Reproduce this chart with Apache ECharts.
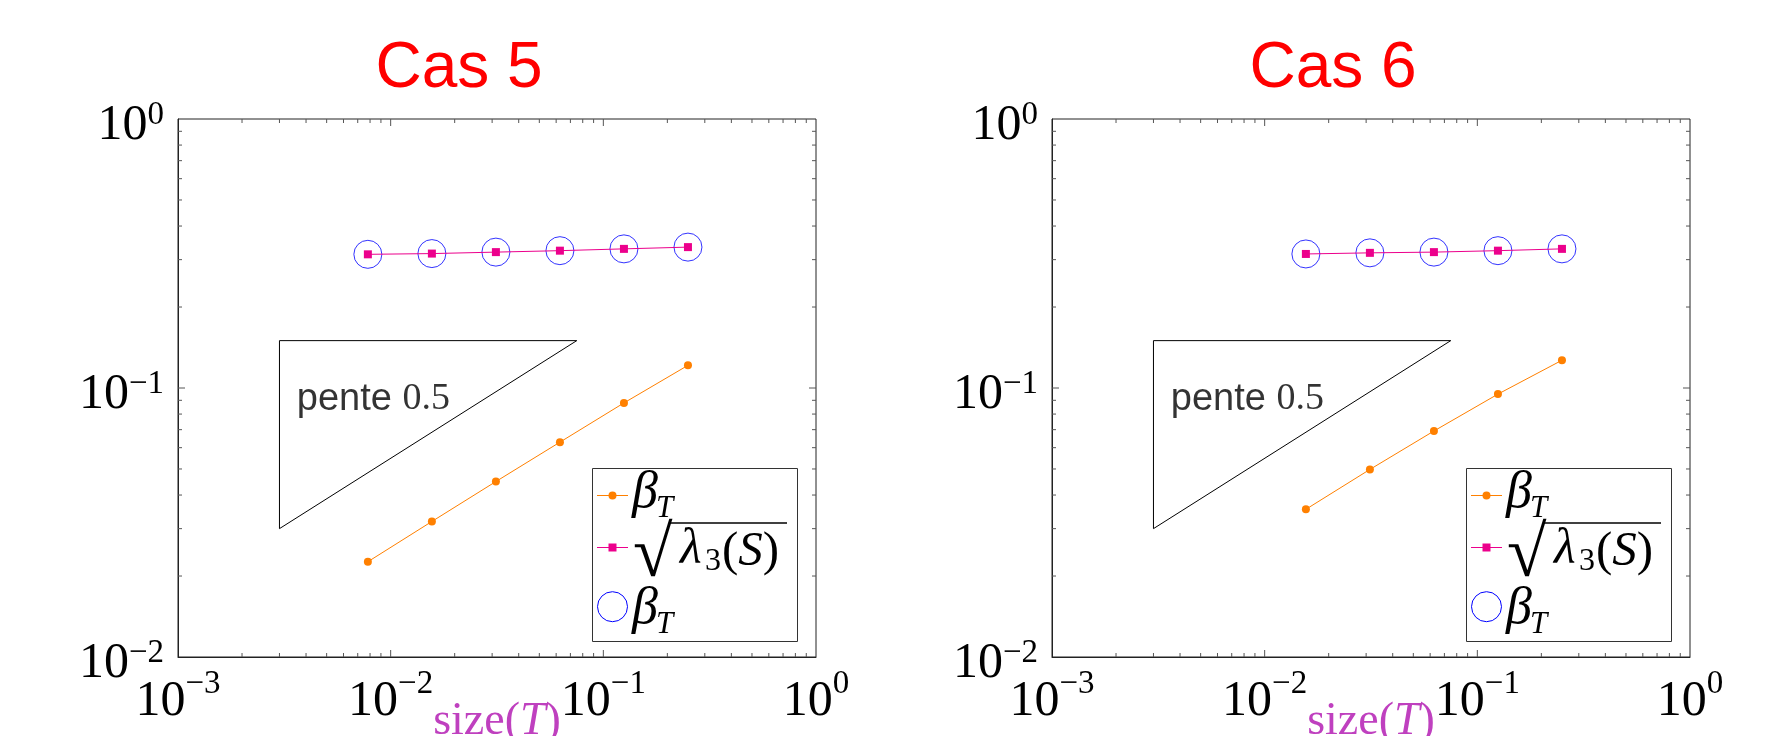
<!DOCTYPE html>
<html>
<head>
<meta charset="utf-8">
<title>Cas 5 / Cas 6</title>
<script src="https://cdn.jsdelivr.net/npm/echarts@6/dist/echarts.min.js"></script>
<style>
    html, body { margin: 0; padding: 0; background: #fff; }
    #chart { width: 1773px; height: 736px; }
</style>
</head>
<body>
<div id="chart"></div>
<script>
// 数据
const titles = ['Cas 5', 'Cas 6'];

const size5 = [1 / 128, 1 / 64, 1 / 32, 1 / 16, 1 / 8, 1 / 4];
const beta5 = [0.0226, 0.0319, 0.0449, 0.0629, 0.0880, 0.1214];
const lambda5 = [0.314, 0.316, 0.320, 0.324, 0.329, 0.334];
const circle5 = [0.314, 0.316, 0.320, 0.324, 0.329, 0.334];

const size6 = [1 / 64, 1 / 32, 1 / 16, 1 / 8, 1 / 4];
const beta6 = [0.0354, 0.0498, 0.0692, 0.0949, 0.1268];
const lambda6 = [0.315, 0.318, 0.320, 0.324, 0.329];
const circle6 = [0.315, 0.318, 0.320, 0.324, 0.329];

// 斜率三角形
const triangleX = [0.003, 0.075, 0.003, 0.003];
const triangleY = [0.03, 0.15, 0.15, 0.03];
const slopeLabelAt = [0.0036, 0.091];

// 刻度
const xMajor = [0.001, 0.01, 0.1, 1];
const yMajor = [0.01, 0.1, 1];

const SERIF = 'Liberation Serif';
const SANS = 'Liberation Sans';
const ORANGE = '#FF8000';
const MAGENTA = '#EC008C';
const BLUE = '#0000FF';
const xMin = xMajor[0], xMax = xMajor[xMajor.length - 1];
const yMin = yMajor[0], yMax = yMajor[yMajor.length - 1];

// 对数刻度: 内部主刻度 + 2..9 次刻度
function logTicks(major) {
    const out = [];
    for (let i = 0; i < major.length - 1; i++) {
        if (i > 0) out.push([major[i], 1]);
        for (let k = 2; k <= 9; k++) out.push([major[i] * k, 0]);
    }
    return out;
}

function powLabel(v) {
    const e = Math.round(Math.log10(v));
    return '{b|10}{s|' + (e < 0 ? '\u2212' + (-e) : e) + '}';
}
const powRichX = {
    b: { fontFamily: SERIF, fontSize: 50, lineHeight: 68, color: '#000' },
    s: { fontFamily: SERIF, fontSize: 33, lineHeight: 33, verticalAlign: 'top', color: '#000' }
};
const powRichY = {
    b: { fontFamily: SERIF, fontSize: 50, lineHeight: 68, padding: [14, 0, 0, 0], color: '#000' },
    s: { fontFamily: SERIF, fontSize: 33, lineHeight: 33, padding: [14, 0, 0, 0], verticalAlign: 'top', color: '#000' }
};

function tickSeries(idx, dir) {
    const ticks = logTicks(dir === 'x' ? xMajor : yMajor);
    return {
        type: 'custom',
        xAxisIndex: idx,
        yAxisIndex: idx,
        silent: true,
        z: 1,
        data: ticks.map(t => dir === 'x' ? [t[0], yMin, t[1]] : [xMin, t[0], t[1]]),
        renderItem(params, api) {
            const len = api.value(2) ? 7 : 4;
            const st = { stroke: '#555', lineWidth: 1 };
            if (dir === 'x') {
                const v = api.value(0);
                const b = api.coord([v, yMin]);
                const t = api.coord([v, yMax]);
                return {
                    type: 'group',
                    children: [
                        { type: 'line', shape: { x1: b[0], y1: b[1], x2: b[0], y2: b[1] - len }, style: st },
                        { type: 'line', shape: { x1: t[0], y1: t[1], x2: t[0], y2: t[1] + len }, style: st }
                    ]
                };
            }
            const v = api.value(1);
            const l = api.coord([xMin, v]);
            const r = api.coord([xMax, v]);
            return {
                type: 'group',
                children: [
                    { type: 'line', shape: { x1: l[0], y1: l[1], x2: l[0] + len, y2: l[1] }, style: st },
                    { type: 'line', shape: { x1: r[0], y1: r[1], x2: r[0] - len, y2: r[1] }, style: st }
                ]
            };
        }
    };
}

const gridLeft = [178, 1052];
const legendLeft = [592, 1466];
const titleLeft = [454, 1328];

// 图例 (LaTeX 风格, 手工排版)
function legendGraphic(L) {
    const T = 468;
    const txt = (x, y, text, size, italic) => ({
        type: 'text',
        x: L + x,
        y: T + y,
        style: {
            text: text,
            fontFamily: SERIF,
            fontSize: size,
            fontStyle: italic ? 'italic' : 'normal',
            fill: '#000',
            align: 'left',
            verticalAlign: 'middle'
        }
    });
    return {
        type: 'group',
        z: 100,
        children: [
            { type: 'rect', shape: { x: L + 0.5, y: T + 0.5, width: 205, height: 173 }, style: { fill: '#fff', stroke: '#333', lineWidth: 1 } },
            // β_T
            { type: 'line', shape: { x1: L + 5, y1: T + 27.5, x2: L + 36, y2: T + 27.5 }, style: { stroke: ORANGE, lineWidth: 1 } },
            { type: 'circle', shape: { cx: L + 20.5, cy: T + 27.5, r: 4 }, style: { fill: ORANGE } },
            txt(40, 25, '\u03B2', 52, true),
            txt(64, 41, 'T', 31, true),
            // sqrt(lambda_3(S))
            { type: 'line', shape: { x1: L + 5, y1: T + 79.5, x2: L + 36, y2: T + 79.5 }, style: { stroke: MAGENTA, lineWidth: 1 } },
            { type: 'rect', shape: { x: L + 16.5, y: T + 75.5, width: 8, height: 8 }, style: { fill: MAGENTA } },
            txt(41, 89, '\u221A', 72, false),
            { type: 'line', shape: { x1: L + 78, y1: T + 55, x2: L + 195, y2: T + 55 }, style: { stroke: '#000', lineWidth: 1.5 } },
            txt(88, 82, '\u03BB', 50, true),
            txt(113, 94, '3', 32, false),
            {
                type: 'text',
                x: L + 130,
                y: T + 84,
                style: {
                    text: '{l|(}{m|S}{l|)}',
                    align: 'left',
                    verticalAlign: 'middle',
                    rich: {
                        l: { fontFamily: SERIF, fontSize: 49, fill: '#000' },
                        m: { fontFamily: SERIF, fontStyle: 'italic', fontSize: 49, fill: '#000' }
                    }
                }
            },
            // 圆圈 β_T
            { type: 'circle', shape: { cx: L + 20.5, cy: T + 138.7, r: 15 }, style: { fill: 'none', stroke: BLUE, lineWidth: 1 } },
            txt(40, 141.5, '\u03B2', 52, true),
            txt(64, 157, 'T', 31, true)
        ]
    };
}

function pairs(xs, ys) {
    return xs.map((x, i) => [x, ys[i]]);
}

function buildSeries(i, k, xs, beta, lambda, circle) {
    return [
        tickSeries(i, 'x'),
        tickSeries(i, 'y'),
        {
            name: 'triangle' + k,
            type: 'line',
            xAxisIndex: i, yAxisIndex: i,
            data: pairs(triangleX, triangleY),
            symbol: 'none',
            silent: true,
            lineStyle: { color: '#000', width: 1 },
            z: 2
        },
        {
            name: 'slope' + k,
            type: 'scatter',
            xAxisIndex: i, yAxisIndex: i,
            data: [slopeLabelAt],
            symbolSize: 1,
            silent: true,
            itemStyle: { color: 'rgba(0,0,0,0)' },
            label: {
                show: true,
                position: 'right',
                distance: 0,
                formatter: '{p|pente }{n|0.5}',
                rich: {
                    p: { fontFamily: SANS, fontSize: 38, color: '#000' },
                    n: { fontFamily: SERIF, fontSize: 38, color: '#000' }
                }
            }
        },
        {
            name: 'circle' + k,
            type: 'scatter',
            xAxisIndex: i, yAxisIndex: i,
            data: pairs(xs, circle),
            symbol: 'circle',
            symbolSize: 28,
            itemStyle: { color: 'rgba(0,0,0,0)', borderColor: BLUE, borderWidth: 1 },
            z: 3
        },
        {
            name: 'beta' + k,
            type: 'line',
            xAxisIndex: i, yAxisIndex: i,
            data: pairs(xs, beta),
            symbol: 'circle',
            symbolSize: 8,
            color: ORANGE,
            itemStyle: { color: ORANGE, borderWidth: 0 },
            lineStyle: { color: ORANGE, width: 1 },
            z: 4
        },
        {
            name: 'lambda' + k,
            type: 'line',
            xAxisIndex: i, yAxisIndex: i,
            data: pairs(xs, lambda),
            symbol: 'rect',
            symbolSize: 8,
            color: MAGENTA,
            itemStyle: { color: MAGENTA, borderWidth: 0 },
            lineStyle: { color: MAGENTA, width: 1 },
            z: 5
        }
    ];
}

function initChart() {
    const chart = echarts.init(document.getElementById('chart'), null, { renderer: 'canvas' });

    const option = {
        backgroundColor: '#fff',
        animation: false,
        title: titles.map((t, i) => ({
            text: t,
            left: titleLeft[i],
            top: 32,
            textAlign: 'center',
            textStyle: { color: '#FF0000', fontFamily: SANS, fontSize: 64, fontWeight: 'normal' }
        })),
        grid: gridLeft.map(l => ({
            left: l,
            top: 119,
            width: 638,
            height: 538,
            show: true,
            borderColor: '#222',
            borderWidth: 1,
            backgroundColor: 'transparent',
            outerBoundsMode: 'none',
            containLabel: false
        })),
        xAxis: gridLeft.map((l, i) => ({
            type: 'log',
            logBase: 10,
            gridIndex: i,
            min: xMin,
            max: xMax,
            axisLine: { show: true, onZero: false, lineStyle: { color: '#222', width: 1 } },
            axisTick: { show: false },
            minorTick: { show: false },
            splitLine: { show: false },
            axisLabel: { margin: 11, color: '#000', formatter: powLabel, rich: powRichX },
            name: '{a|size(}{t|T}{a|)}',
            nameLocation: 'middle',
            nameGap: 42,
            nameMoveOverlap: false,
            nameTextStyle: {
                color: '#BF40BF',
                rich: {
                    a: { fontFamily: SERIF, fontSize: 46, color: '#BF40BF' },
                    t: { fontFamily: SERIF, fontStyle: 'italic', fontSize: 46, color: '#BF40BF' }
                }
            }
        })),
        yAxis: gridLeft.map((l, i) => ({
            type: 'log',
            logBase: 10,
            gridIndex: i,
            min: yMin,
            max: yMax,
            axisLine: { show: true, onZero: false, lineStyle: { color: '#222', width: 1 } },
            axisTick: { show: false },
            minorTick: { show: false },
            splitLine: { show: false },
            axisLabel: { margin: 14, color: '#000', formatter: powLabel, rich: powRichY }
        })),
        graphic: legendLeft.map(legendGraphic),
        series: [].concat(
            buildSeries(0, '5', size5, beta5, lambda5, circle5),
            buildSeries(1, '6', size6, beta6, lambda6, circle6)
        )
    };

    chart.setOption(option);
    window.addEventListener('resize', () => chart.resize());
}

document.addEventListener('DOMContentLoaded', initChart);
</script>
</body>
</html>
